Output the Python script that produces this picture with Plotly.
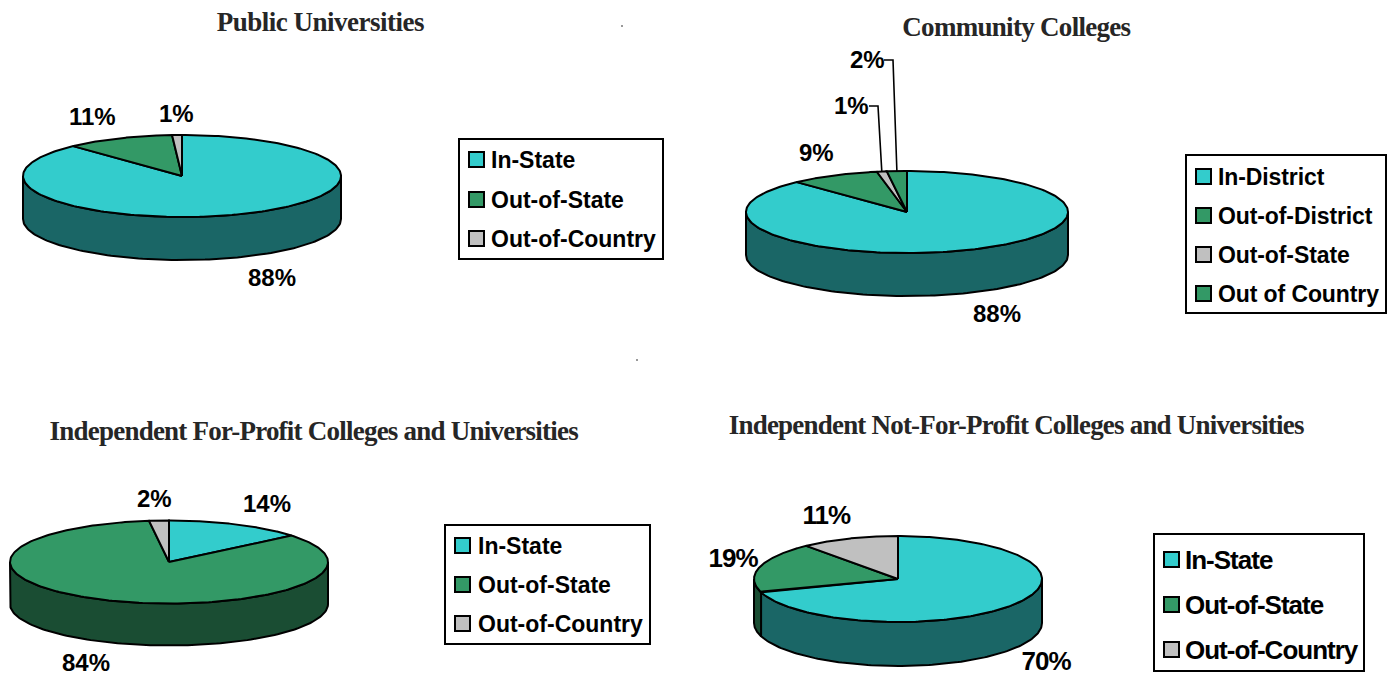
import json
import numpy as np
import plotly.graph_objects as go

# ---- data ----
public_categories = ["In-State", "Out-of-State", "Out-of-Country"]
public_values = [88, 11, 1]
community_categories = ["In-District", "Out-of-District", "Out-of-State", "Out of Country"]
community_values = [88, 9, 1, 2]
forprofit_categories = ["In-State", "Out-of-State", "Out-of-Country"]
forprofit_values = [14, 84, 2]
notforprofit_categories = ["In-State", "Out-of-State", "Out-of-Country"]
notforprofit_values = [70, 19, 11]

TEAL, GREEN, GRAY = "#33CCCC", "#339966", "#C0C0C0"
WALL = {TEAL: "#1A6666", GREEN: "#1A4D33", GRAY: "#606060"}
SANS = "Liberation Sans"
SERIF = "Liberation Serif"

panels = [
    dict(title="Public Universities", title_xy=(320, 22), title_size=27, title_sp=-0.5,
         cats=public_categories, vals=public_values, colors=[TEAL, GREEN, GRAY],
         c=(182, 176), rx=159, ry=41, depth=43,
         labels=[(272, 277), (92, 116), (176, 113)], label_size=24, label_sp=0,
         box=(459, 139, 663, 259), swatch_x=469, text_x=489, rows=[160, 200, 239], leg_size=23, leg_sp=0),
    dict(title="Community Colleges", title_xy=(1016, 27), title_size=27, title_sp=-0.7,
         cats=community_categories, vals=community_values, colors=[TEAL, GREEN, GRAY, GREEN],
         c=(907, 212), rx=161, ry=41, depth=43,
         labels=[(997, 313), (816, 152), (851, 105), (867, 59)], label_size=24, label_sp=0,
         leaders={2: (877, 106), 3: (892, 60)},
         box=(1186, 155, 1386, 313), swatch_x=1196, text_x=1216, rows=[177, 216, 255, 294], leg_size=23, leg_sp=-0.1),
    dict(title="Independent For-Profit Colleges and Universities", title_xy=(313, 431), title_size=27, title_sp=-0.77,
         cats=forprofit_categories, vals=forprofit_values, colors=[TEAL, GREEN, GRAY],
         c=(169, 562), rx=159, ry=41.5, depth=42,
         labels=[(267, 503), (86, 662), (154, 498)], label_size=24, label_sp=0,
         box=(445, 525, 650, 644), swatch_x=455, text_x=476, rows=[546, 585, 624], leg_size=23, leg_sp=0),
    dict(title="Independent Not-For-Profit Colleges and Universities", title_xy=(1016, 425), title_size=27, title_sp=-0.8,
         cats=notforprofit_categories, vals=notforprofit_values, colors=[TEAL, GREEN, GRAY],
         c=(898, 579), rx=144, ry=43, depth=44,
         labels=[(1046, 661), (733, 558), (826, 515)], label_size=26, label_sp=-1.0,
         box=(1154, 534, 1364, 671), swatch_x=1164, text_x=1183, rows=[560, 605, 650], leg_size=26, leg_sp=-1.0),
]

fig = go.Figure()
annotations, shapes = [], []
spacing = []  # letter-spacing per annotation, in the order they are added


def rim(p, t):
    return p["c"][0] + p["rx"] * np.sin(t), p["c"][1] - p["ry"] * np.cos(t)


def poly(xs, ys, fill, lw=2):
    fig.add_trace(go.Scatter(x=xs, y=ys, mode="lines", fill="toself", fillcolor=fill,
                             line=dict(color="black", width=lw), hoverinfo="skip", showlegend=False))


def note(sp, **kw):
    annotations.append(dict(showarrow=False, yanchor="middle", **kw))
    spacing.append(sp)


for p in panels:
    vals = np.array(p["vals"], float)
    edges = 2 * np.pi * np.concatenate([[0], np.cumsum(vals) / vals.sum()])
    # side walls: only the front half of the rim (pi/2 .. 3pi/2) is visible
    for i, col in enumerate(p["colors"]):
        a, b = max(edges[i], np.pi / 2), min(edges[i + 1], 3 * np.pi / 2)
        if b > a:
            t = np.linspace(a, b, 120)
            x, y = rim(p, t)
            poly(np.r_[x, x[::-1], x[0]], np.r_[y, y[::-1] + p["depth"], y[0]], WALL[col])
    # top faces
    for i, col in enumerate(p["colors"]):
        t = np.linspace(edges[i], edges[i + 1], 240)
        x, y = rim(p, t)
        poly(np.r_[p["c"][0], x, p["c"][0]], np.r_[p["c"][1], y, p["c"][1]], col)
    # value labels
    for v, (lx, ly) in zip(p["vals"], p["labels"]):
        note(p["label_sp"], x=lx, y=ly, text=f"<b>{v}%</b>", xanchor="center",
             font=dict(family=SANS, size=p["label_size"], color="black"))
    # leader lines to thin slices
    for i, (ex, ey) in p.get("leaders", {}).items():
        mx, my = rim(p, (edges[i] + edges[i + 1]) / 2)
        fig.add_trace(go.Scatter(x=[ex - 8, ex + 1, mx], y=[ey, ey, my], mode="lines",
                                 line=dict(color="black", width=1.6), hoverinfo="skip", showlegend=False))
    # title
    note(p["title_sp"], x=p["title_xy"][0], y=p["title_xy"][1], text=f"<b>{p['title']}</b>", xanchor="center",
         font=dict(family=SERIF, size=p["title_size"], color="#262626"))
    # legend box
    x0, y0, x1, y1 = p["box"]
    shapes.append(dict(type="rect", x0=x0, y0=y0, x1=x1, y1=y1, xref="x", yref="y",
                       line=dict(color="black", width=2), fillcolor="white", layer="below"))
    for cat, col, ry in zip(p["cats"], p["colors"], p["rows"]):
        sx = p["swatch_x"]
        shapes.append(dict(type="rect", x0=sx, x1=sx + 15, y0=ry - 8, y1=ry + 7, xref="x", yref="y",
                           line=dict(color="black", width=2), fillcolor=col))
        note(p["leg_sp"], x=p["text_x"], y=ry, text=f"<b>{cat}</b>", xanchor="left", align="left",
             font=dict(family=SANS, size=p["leg_size"], color="black"))

# two tiny specks in the page
fig.add_trace(go.Scatter(x=[622, 637], y=[26, 360], mode="markers",
                         marker=dict(color="black", size=1.5), hoverinfo="skip", showlegend=False))

fig.update_layout(
    width=1392, height=677, margin=dict(l=0, r=0, t=0, b=0),
    paper_bgcolor="white", plot_bgcolor="white", showlegend=False,
    xaxis=dict(range=[0, 1392], visible=False, fixedrange=True),
    yaxis=dict(range=[677, 0], visible=False, fixedrange=True),
    annotations=annotations, shapes=shapes,
)
post = (
    "document.body.style.margin='0';document.body.style.overflow='hidden';"
    "var sp=" + json.dumps(spacing) + ";"
    "document.querySelectorAll('.annotation-text').forEach(function(t,i){"
    "t.style.letterSpacing=sp[i]+'px';});"
)
fig.write_html("out.html", config={"displayModeBar": False}, post_script=post)
